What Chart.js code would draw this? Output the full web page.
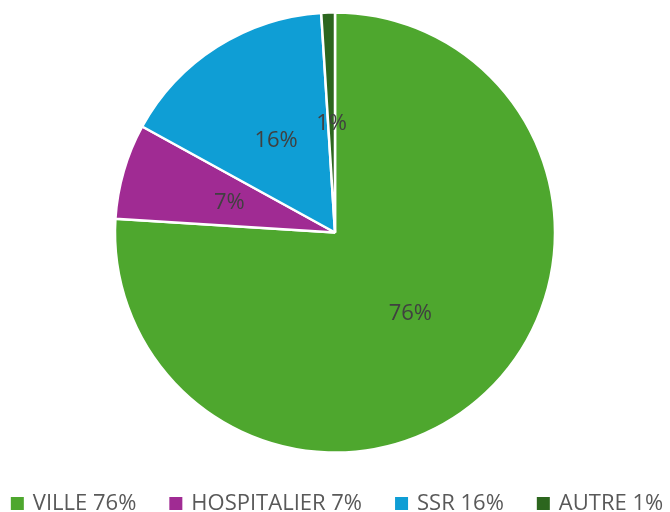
<!DOCTYPE html>
<html>
<head>
<meta charset="utf-8">
<script src="https://cdn.jsdelivr.net/npm/chart.js@4/dist/chart.umd.min.js"></script>
<style>
  html, body { margin: 0; padding: 0; background: #fff; }
  #wrap { width: 670px; height: 512px; }
</style>
</head>
<body>
<div id="wrap"><canvas id="chart"></canvas></div>
<script>
// Data
const categories = ['VILLE', 'HOSPITALIER', 'SSR', 'AUTRE'];
const shares = [76, 7, 16, 1];
const sliceColors = ['#4EA72E', '#A02B93', '#0F9ED5', '#2C661E'];

const labelFont = '22px "Open Sans", sans-serif';

// Percentage labels halfway along each slice radius
const sliceLabels = {
    id: 'sliceLabels',
    afterDatasetsDraw(chart) {
        const ctx = chart.ctx;
        const meta = chart.getDatasetMeta(0);
        ctx.save();
        ctx.font = labelFont;
        ctx.fillStyle = '#404040';
        ctx.textAlign = 'center';
        ctx.textBaseline = 'middle';
        meta.data.forEach((arc, i) => {
            const mid = (arc.startAngle + arc.endAngle) / 2;
            const r = arc.outerRadius * 0.5;
            ctx.fillText(shares[i] + '%', arc.x + Math.cos(mid) * r, arc.y + Math.sin(mid) * r + 1);
        });
        ctx.restore();
    }
};

// Legend row at the bottom (the built-in one wraps at this font size)
const bottomLegend = {
    id: 'bottomLegend',
    afterDraw(chart) {
        const ctx = chart.ctx;
        const box = 13, gap = 9, itemGap = 33, baseline = 510;
        ctx.save();
        ctx.font = labelFont;
        ctx.textBaseline = 'alphabetic';
        const texts = categories.map((c, i) => c + ' ' + shares[i] + '%');
        const widths = texts.map(t => box + gap + ctx.measureText(t).width);
        const total = widths.reduce((a, b) => a + b, 0) + itemGap * (texts.length - 1);
        let x = (chart.width - total) / 2 + 2;
        texts.forEach((t, i) => {
            ctx.fillStyle = sliceColors[i];
            ctx.fillRect(x, baseline - box, box, box);
            ctx.fillStyle = '#595959';
            ctx.fillText(t, x + box + gap, baseline);
            x += widths[i] + itemGap;
        });
        ctx.restore();
    }
};

const ctx = document.getElementById('chart').getContext('2d');
new Chart(ctx, {
    type: 'pie',
    data: {
        labels: categories,
        datasets: [{
            data: shares,
            backgroundColor: sliceColors,
            borderColor: '#ffffff',
            borderWidth: 2.5
        }]
    },
    options: {
        responsive: true,
        maintainAspectRatio: false,
        animation: false,
        radius: 220,
        layout: { padding: { top: 0, bottom: 47 } },
        plugins: {
            tooltip: { enabled: false },
            legend: { display: false }
        }
    },
    plugins: [sliceLabels, bottomLegend]
});
</script>
</body>
</html>
